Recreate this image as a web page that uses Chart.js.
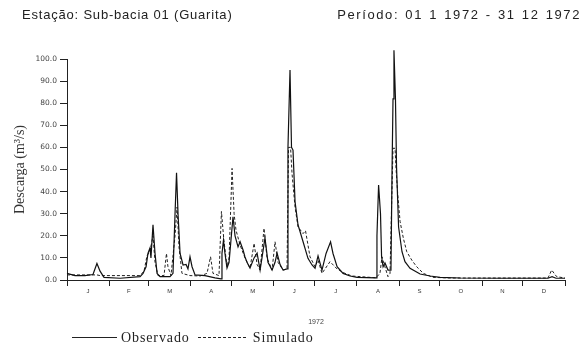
<!DOCTYPE html>
<html>
<head>
<meta charset="utf-8">
<script src="https://cdn.jsdelivr.net/npm/chart.js@4.4.1/dist/chart.umd.min.js"></script>
<style>
  html, body { margin: 0; padding: 0; background: #fff; }
  #wrap { position: relative; width: 584px; height: 349px; overflow: hidden; }
  #c { position: absolute; left: 0; top: 0; }
  .hdr { position: absolute; top: 7px; font-family: "Liberation Sans", Arial, sans-serif; font-size: 13px; color: #222; white-space: nowrap; }
  #hl { left: 22px; letter-spacing: 0.8px; }
  #hr { right: 3px; letter-spacing: 1.6px; word-spacing: 1px; }
  #legend { position: absolute; top: 329px; left: 72px; font-family: "Liberation Serif", "Times New Roman", serif; font-size: 14px; color: #222; white-space: nowrap; }
  #legend span { display: inline-block; vertical-align: middle; }
  .sw { width: 45px; height: 0; border-top: 1px solid #222; margin-right: 4px; }
  .sw.d { border-top: 1px dashed #222; width: 48px; margin-left: 8px; }
  .lt { letter-spacing: 0.9px; }
</style>
</head>
<body>
<div id="wrap">
  <canvas id="c" width="584" height="349"></canvas>
  <div class="hdr" id="hl">Estação: Sub-bacia 01 (Guarita)</div>
  <div class="hdr" id="hr">Período: 01 1 1972 - 31 12 1972</div>
  <div id="legend"><span class="sw"></span><span class="lt">Observado</span><span class="sw d"></span><span class="lt" style="margin-left:3px">Simulado</span></div>
</div>
<script>
// ---- data (day of year 1972, discharge m3/s) ----
const monthLabels = ["J","F","M","A","M","J","J","A","S","O","N","D"];
const monthStarts = [0,31,60,91,121,152,182,213,244,274,305,335,366];
const yTicks = [0,10,20,30,40,50,60,70,80,90,100];

const obsDays = [0,5.9,13.2,19.1,22,24.3,27.2,39,53.7,55.9,58.1,59.5,61,61.7,63.2,64.7,66.2,68.4,75.7,77.9,79.4,80.5,81.6,83.1,85.3,87.5,88.9,90.4,91.9,94.1,101.4,108.8,113.2,113.9,115,116.1,117.6,119.1,120.5,122,123.5,125.7,127.2,129.4,130.8,132.3,134.5,137.5,139.7,141.9,143.3,145.5,147.7,150.7,152.9,154.4,156.6,158.8,161.7,162.4,163.9,165,166.1,167.6,169.8,173.5,177.1,180.1,182.3,184.5,187.4,190.4,193.7,195.5,198.5,202.9,208,213.2,227.1,227.8,229,230.4,231.2,232.3,233.7,235.9,238.1,238.9,239.6,240.3,241.4,242.2,243.7,246.2,248.4,252.1,259.5,266.8,274.2,288.9,318.3,353.5,356.5,359.4,366];
const obsVals = [3,2,2,2.5,7.5,4,1.2,0.8,1.5,3,6,12,14.5,10,25,12,3,1.5,1.5,3,30,48.5,30,12,6.8,7,5,10.5,6,2.3,2,1,0.5,12,18,12,5.4,8,18,28.6,20,15,17.3,13.6,10.4,8,5.4,10,12.2,4.5,10,19,8,4.5,8,12.2,7,4.5,5,60,95,60,58.8,35.4,24.9,17.3,9.8,6.8,5.3,10.9,4.5,12,17.3,12,6,3,1.8,1.2,1,20,43,30,10.5,6,7.7,4.5,4.5,50,82,104,82,51,24,12.8,8.3,5.3,2.7,1.8,1.2,0.9,0.8,0.8,1.5,0.8,0.8];

const simDays = [0,22,24.3,53.7,56.6,58.8,61,63.2,64.7,66.9,71.3,73.1,74.2,76.4,79.4,80.9,82.3,84.5,90.4,97.8,102.9,105.5,107.3,111.7,113.5,115.3,117.6,119.1,121.3,122.8,124.2,127.2,130.8,134.5,137.5,139.7,141.9,144.8,147,150.7,152.9,155.1,158.8,161.7,162.8,164.3,165.4,167.6,169.8,173.5,175.3,178.6,182.3,184.5,187.4,193.3,198.5,204.3,209.5,227.1,230,231.5,232.9,235.9,237.4,238.1,239.6,241.1,241.8,243.1,244.8,247.2,249.7,253.4,257,261.9,269,281.5,353.5,356.2,359.9,366];
const simVals = [2.3,2.3,2,2,4,11,13,20,8,2,2,12,6,2,20,33,15,3,2,1.8,3,10.5,3,2,31,18,6,10,50.5,30,22.6,15.8,10,5.4,16.6,7,4.5,23.4,10,4.5,17.3,8,4.5,5,60,60,48,33,24,21,22.3,10.5,6,9,3,8.3,5,3,1.8,1,3,10.5,7.5,1.5,3,22,59.6,59.6,50.5,38.5,26.4,18.9,12.8,9,6,3,1.2,0.9,0.9,4.5,1.5,0.9];

const obsData = obsDays.map((d, i) => ({x: d, y: obsVals[i]}));
const simData = simDays.map((d, i) => ({x: d, y: simVals[i]}));
const monthCenters = monthLabels.map((m, i) => (monthStarts[i] + monthStarts[i + 1]) / 2);

const ctx = document.getElementById('c').getContext('2d');
new Chart(ctx, {
  type: 'line',
  data: {
    datasets: [
      { label: 'Observado', data: obsData, borderColor: '#111', borderWidth: 1.2, pointRadius: 0, tension: 0, clip: false },
      { label: 'Simulado', data: simData, borderColor: '#222', borderWidth: 1, borderDash: [3, 2], pointRadius: 0, tension: 0, clip: false }
    ]
  },
  options: {
    responsive: false,
    animation: false,
    layout: { padding: { left: 0, right: 19, top: 59, bottom: 0 } },
    plugins: { legend: { display: false }, tooltip: { enabled: false } },
    scales: {
      x: {
        type: 'linear', min: 0, max: 366,
        afterBuildTicks: (s) => {
          const t = monthStarts.map(v => ({value: v, major: true}));
          monthCenters.forEach(v => t.push({value: v, major: false}));
          t.sort((a, b) => a.value - b.value);
          s.ticks = t;
        },
        afterFit: (s) => { s.height = 69; },
        ticks: {
          autoSkip: false, maxRotation: 0, padding: 2,
          font: { family: 'Liberation Sans', size: 6 }, color: '#333',
          callback: (v) => { const i = monthCenters.indexOf(v); return i >= 0 ? monthLabels[i] : ''; }
        },
        grid: {
          drawOnChartArea: false, drawTicks: true, tickLength: 6,
          tickColor: (c) => (c.tick && monthStarts.includes(c.tick.value)) ? '#222' : 'rgba(0,0,0,0)',
          color: 'rgba(0,0,0,0)'
        },
        border: { display: true, color: '#222', width: 1 },
        title: { display: true, text: '1972', font: { family: 'Liberation Sans', size: 7 }, color: '#444', padding: { top: 0, bottom: 23 } }
      },
      y: {
        type: 'linear', min: 0, max: 100,
        afterBuildTicks: (s) => { s.ticks = yTicks.map(v => ({value: v})); },
        afterFit: (s) => { s.width = 67; },
        ticks: {
          padding: 3, font: { family: 'DejaVu Sans', size: 7.5 }, color: '#444',
          callback: (v) => Number(v).toFixed(1)
        },
        grid: { drawOnChartArea: false, drawTicks: true, tickLength: 7, tickColor: '#222' },
        border: { display: true, color: '#222', width: 1 },
        title: { display: true, text: 'Descarga (m³/s)', font: { family: 'Liberation Serif', size: 14 }, color: '#333', padding: 11.5 }
      }
    }
  }
});
</script>
</body>
</html>
